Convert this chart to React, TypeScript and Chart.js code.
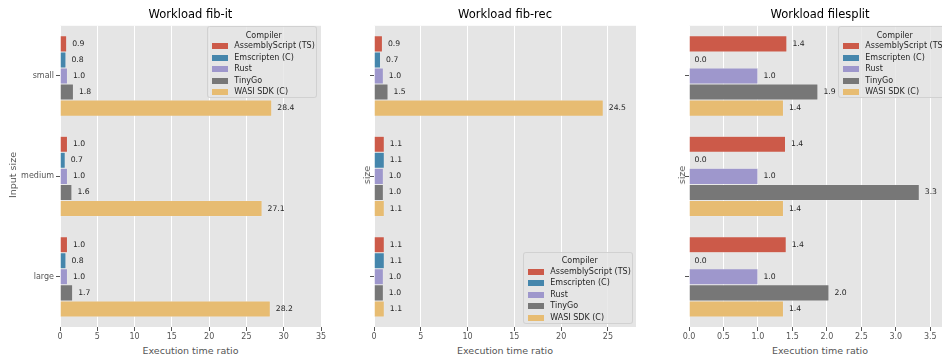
import React, { useEffect, useRef } from 'react';
import { Chart, registerables } from 'chart.js';

Chart.register(...registerables);

// ---------- data ----------
const compilers = ['AssemblyScript (TS)', 'Emscripten (C)', 'Rust', 'TinyGo', 'WASI SDK (C)'];
const inputSizes = ['small', 'medium', 'large'];

// Workload fib-it (per compiler, values for small / medium / large)
const fibItAssemblyScript = [0.9, 1.0, 1.0];
const fibItEmscripten = [0.8, 0.7, 0.8];
const fibItRust = [1.0, 1.0, 1.0];
const fibItTinyGo = [1.8, 1.6, 1.7];
const fibItWasiSdk = [28.4, 27.1, 28.2];

// Workload fib-rec
const fibRecAssemblyScript = [0.9, 1.1, 1.1];
const fibRecEmscripten = [0.7, 1.1, 1.1];
const fibRecRust = [1.0, 1.0, 1.0];
const fibRecTinyGo = [1.5, 1.0, 1.0];
const fibRecWasiSdk = [24.5, 1.1, 1.1];

// Workload filesplit
const fileSplitAssemblyScript = [1.42, 1.4, 1.41];
const fileSplitEmscripten = [0.0, 0.0, 0.0];
const fileSplitRust = [1.0, 1.0, 1.0];
const fileSplitTinyGo = [1.87, 3.34, 2.03];
const fileSplitWasiSdk = [1.37, 1.37, 1.37];

const colors = ['#CC5A49', '#4586AC', '#9E97CC', '#777777', '#E7BC72'];

// ---------- layout ----------
const FONT = "'DejaVu Sans', sans-serif";
const PLOT_TOP = 23;
const PLOT_BOTTOM = 327;
const PAD_TOP = 4;
const PAD_RIGHT = 14;
const X_AXIS_H = 14;

type Panel = {
  title: string;
  series: number[][];
  max: number;
  step: number;
  decimals: number;
  showY: boolean;
  plotLeft: number;
  plotRight: number;
  yAxisW: number;
  yTitle: string;
  yTitleX: number;
  legend: { left: number; top: number };
};

const panels: Panel[] = [
  {
    title: 'Workload fib-it',
    series: [fibItAssemblyScript, fibItEmscripten, fibItRust, fibItTinyGo, fibItWasiSdk],
    max: 35, step: 5, decimals: 0, showY: true,
    plotLeft: 60, plotRight: 321, yAxisW: 60,
    yTitle: 'Input size', yTitleX: 12.5,
    legend: { left: 207.3, top: 26 },
  },
  {
    title: 'Workload fib-rec',
    series: [fibRecAssemblyScript, fibRecEmscripten, fibRecRust, fibRecTinyGo, fibRecWasiSdk],
    max: 28, step: 5, decimals: 0, showY: false,
    plotLeft: 374, plotRight: 636, yAxisW: 10,
    yTitle: 'size', yTitleX: 366.7,
    legend: { left: 523.3, top: 251.7 },
  },
  {
    title: 'Workload filesplit',
    series: [fileSplitAssemblyScript, fileSplitEmscripten, fileSplitRust, fileSplitTinyGo, fileSplitWasiSdk],
    max: 3.8, step: 0.5, decimals: 1, showY: false,
    plotLeft: 689, plotRight: 951, yAxisW: 10,
    yTitle: 'size', yTitleX: 682,
    legend: { left: 838.3, top: 26 },
  },
];

const bgPlugin = {
  id: 'plotBg',
  beforeDraw(chart: any) {
    const { ctx, chartArea } = chart;
    ctx.save();
    ctx.fillStyle = '#E5E5E5';
    ctx.fillRect(chartArea.left, chartArea.top, chartArea.right - chartArea.left, chartArea.bottom - chartArea.top);
    ctx.restore();
  },
};

const valueLabelPlugin = {
  id: 'valueLabels',
  afterDatasetsDraw(chart: any) {
    const { ctx } = chart;
    ctx.save();
    ctx.font = `7.7px ${FONT}`;
    ctx.fillStyle = '#262626';
    ctx.textAlign = 'left';
    ctx.textBaseline = 'middle';
    chart.data.datasets.forEach((ds: any, i: number) => {
      const meta = chart.getDatasetMeta(i);
      meta.data.forEach((el: any, j: number) => {
        const v = ds.data[j] as number;
        ctx.fillText(v.toFixed(1), el.x + 5.5, el.y);
      });
    });
    ctx.restore();
  },
};

function PanelChart({ p }: { p: Panel }) {
  const ref = useRef<HTMLCanvasElement | null>(null);
  const cw = p.plotRight - p.plotLeft + p.yAxisW + PAD_RIGHT;
  const ch = PAD_TOP + (PLOT_BOTTOM - PLOT_TOP) + X_AXIS_H;

  useEffect(() => {
    const canvas = ref.current!;
    const chart = new Chart(canvas, {
      type: 'bar',
      data: {
        labels: inputSizes,
        datasets: compilers.map((c, i) => ({
          label: c,
          data: p.series[i],
          backgroundColor: colors[i],
          borderColor: '#EEEEEE',
          borderWidth: 0.5,
          categoryPercentage: 0.8,
          barPercentage: 1.0,
        })),
      },
      options: {
        indexAxis: 'y',
        animation: false,
        responsive: false,
        maintainAspectRatio: false,
        devicePixelRatio: 1,
        layout: { padding: { top: PAD_TOP, right: PAD_RIGHT, left: 0, bottom: 0 } },
        plugins: {
          legend: { display: false },
          tooltip: { enabled: false },
          title: { display: false },
        },
        scales: {
          x: {
            type: 'linear',
            min: 0,
            max: p.max,
            afterFit: (s: any) => { s.height = X_AXIS_H; },
            afterBuildTicks: (s: any) => {
              const n = Math.floor(p.max / p.step + 1e-9);
              const ticks: any[] = [];
              for (let k = 0; k <= n; k++) ticks.push({ value: +(k * p.step).toFixed(6) });
              s.ticks = ticks;
            },
            ticks: {
              stepSize: p.step,
              color: '#555555',
              font: { size: 8, family: FONT },
              padding: 1,
              maxRotation: 0,
              autoSkip: false,
              callback: (v: any) => Number(v).toFixed(p.decimals),
            },
            grid: { color: '#FFFFFF', lineWidth: 1, tickColor: '#555555', tickLength: 4, drawTicks: true },
            border: { display: false },
          },
          y: {
            type: 'category',
            offset: true,
            afterFit: (s: any) => { s.width = p.yAxisW; },
            ticks: {
              color: '#555555',
              font: { size: 8, family: FONT },
              padding: 2,
              callback: (_v: any, i: number) => (p.showY ? inputSizes[i] : ''),
            },
            grid: { offset: false, drawOnChartArea: false, tickColor: '#555555', tickLength: 4 },
            border: { display: false },
          },
        },
      } as any,
      plugins: [bgPlugin, valueLabelPlugin],
    });
    return () => chart.destroy();
  }, []);

  return (
    <canvas
      ref={ref}
      width={cw}
      height={ch}
      style={{
        position: 'absolute',
        left: p.plotLeft - p.yAxisW,
        top: PLOT_TOP - PAD_TOP,
        width: cw,
        height: ch,
      }}
    />
  );
}

function Legend({ left, top }: { left: number; top: number }) {
  return (
    <div
      style={{
        position: 'absolute',
        left,
        top,
        width: 110,
        height: 72,
        boxSizing: 'border-box',
        background: 'rgba(229,229,229,0.8)',
        border: '1px solid rgba(204,204,204,0.8)',
        borderRadius: 3,
        fontFamily: FONT,
        fontSize: 8,
        color: '#262626',
      }}
    >
      <div
        style={{
          position: 'absolute',
          left: 4,
          width: 103,
          top: 8.7,
          transform: 'translateY(-50%)',
          textAlign: 'center',
          whiteSpace: 'nowrap',
          lineHeight: '10px',
        }}
      >
        Compiler
      </div>
      {compilers.map((c, i) => (
        <React.Fragment key={c}>
          <div
            style={{
              position: 'absolute',
              left: 3.4,
              top: 19 + i * 11.5 - 3,
              width: 16,
              height: 6,
              background: colors[i],
            }}
          />
          <div
            style={{
              position: 'absolute',
              left: 26,
              top: 19 + i * 11.5 - 5,
              lineHeight: '10px',
              whiteSpace: 'nowrap',
            }}
          >
            {c}
          </div>
        </React.Fragment>
      ))}
    </div>
  );
}

export default function App() {
  useEffect(() => {
    document.body.style.margin = '0';
  }, []);
  return (
    <div
      style={{
        position: 'relative',
        width: 942,
        height: 358,
        overflow: 'hidden',
        background: '#FFFFFF',
        fontFamily: FONT,
      }}
    >
      {panels.map((p) => (
        <React.Fragment key={p.title}>
          <PanelChart p={p} />
          <div
            style={{
              position: 'absolute',
              left: (p.plotLeft + p.plotRight) / 2,
              top: 14.3,
              transform: 'translate(-50%, -50%)',
              fontSize: 11.5,
              lineHeight: '14px',
              color: '#000',
              whiteSpace: 'nowrap',
            }}
          >
            {p.title}
          </div>
          <div
            style={{
              position: 'absolute',
              left: (p.plotLeft + p.plotRight) / 2,
              top: 350.5,
              transform: 'translate(-50%, -50%)',
              fontSize: 9.5,
              lineHeight: '12px',
              color: '#555555',
              whiteSpace: 'nowrap',
            }}
          >
            Execution time ratio
          </div>
          <div
            style={{
              position: 'absolute',
              left: p.yTitleX,
              top: 175,
              transform: 'translate(-50%, -50%) rotate(-90deg)',
              fontSize: 9.5,
              lineHeight: '12px',
              color: '#555555',
              whiteSpace: 'nowrap',
            }}
          >
            {p.yTitle}
          </div>
          <Legend left={p.legend.left} top={p.legend.top} />
        </React.Fragment>
      ))}
    </div>
  );
}
